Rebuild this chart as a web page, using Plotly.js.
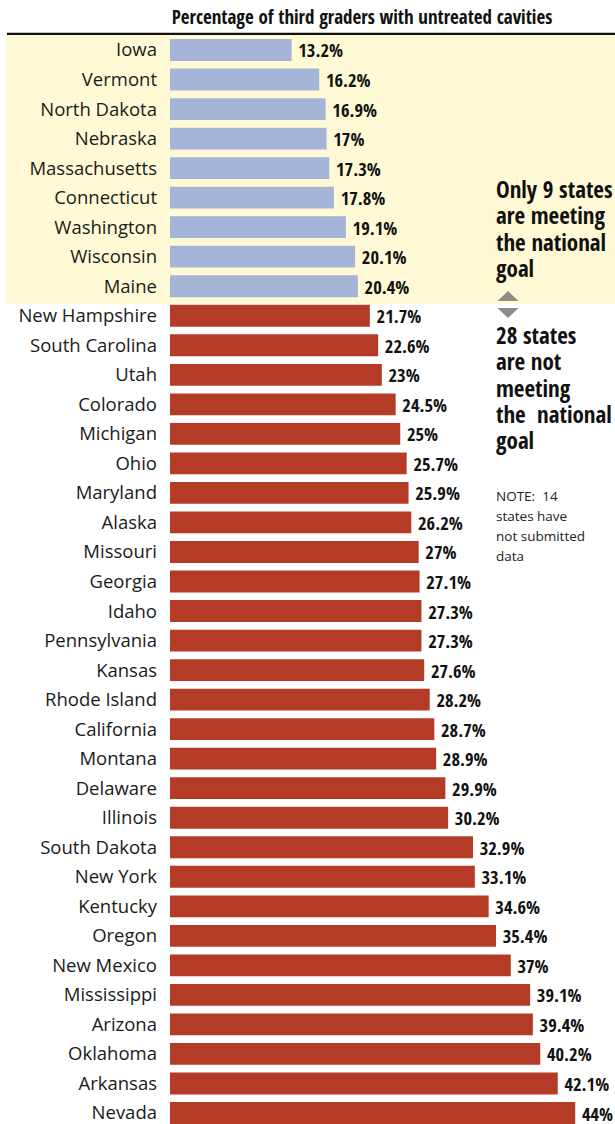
<!DOCTYPE html>
<html><head><meta charset="utf-8">
<script src="https://cdn.plot.ly/plotly-3.0.1.min.js"></script>
<style>html,body{margin:0;padding:0;background:#fff;}#chart{width:615px;height:1124px;}</style>
</head><body><div id="chart"></div>
<script>
const states = ["Iowa","Vermont","North Dakota","Nebraska","Massachusetts","Connecticut","Washington","Wisconsin","Maine",
"New Hampshire","South Carolina","Utah","Colorado","Michigan","Ohio","Maryland","Alaska","Missouri","Georgia","Idaho",
"Pennsylvania","Kansas","Rhode Island","California","Montana","Delaware","Illinois","South Dakota","New York","Kentucky",
"Oregon","New Mexico","Mississippi","Arizona","Oklahoma","Arkansas","Nevada"];
const values = [13.2,16.2,16.9,17,17.3,17.8,19.1,20.1,20.4,
21.7,22.6,23,24.5,25,25.7,25.9,26.2,27,27.1,27.3,
27.3,27.6,28.2,28.7,28.9,29.9,30.2,32.9,33.1,34.6,
35.4,37,39.1,39.4,40.2,42.1,44];
const meetingCount = 9;
const titleText = "Percentage of third graders with untreated cavities";
const goodLines = ["Only 9 states", "are meeting", "the national", "goal"];
const badLines = ["28 states", "are not", "meeting", "the  national", "goal"];
const noteLines = ["NOTE:  14", "states have", "not submitted", "data"];

const W = 615, H = 1124, L = 170, T = 35;
const pw = W - L, ph = H - T;
const xp = px => (px - L) / pw;
const yp = py => 1 - (py - T) / ph;

const colors = values.map((v, i) => i < meetingCount ? "#a5b5d8" : "#b43c27");
const condensed = "'Open Sans Condensed', 'Roboto Condensed', sans-serif";
const regular = "'Open Sans', 'Noto Sans', sans-serif";

const trace = {
  type: "bar", orientation: "h",
  x: values, y: states,
  marker: {color: colors},
  text: values.map(v => "\u2009" + String(v) + "%"),
  textposition: "outside",
  constraintext: "none",
  textfont: {family: condensed, size: 18.5, color: "#111", weight: "bold"},
  cliponaxis: false,
  hoverinfo: "skip"
};

const annotations = [];
goodLines.forEach((t, i) => annotations.push({xref: "paper", yref: "paper", x: xp(494), y: yp(189 + i * 26.3),
  xanchor: "left", yanchor: "middle", text: "<b>" + t + "</b>", showarrow: false,
  font: {family: condensed, size: 23, color: "#111"}}));
badLines.forEach((t, i) => annotations.push({xref: "paper", yref: "paper", x: xp(494), y: yp(335 + i * 26.3),
  xanchor: "left", yanchor: "middle", text: "<b>" + t + "</b>", showarrow: false,
  font: {family: condensed, size: 23, color: "#111"}}));
noteLines.forEach((t, i) => annotations.push({xref: "paper", yref: "paper", x: xp(494), y: yp(496 + i * 20),
  xanchor: "left", yanchor: "middle", text: t, showarrow: false,
  font: {family: regular, size: 13.5, color: "#222"}}));

const tri = (cx, y0, y1) => `M ${xp(cx - 10.5)} ${yp(y0)} L ${xp(cx + 10.5)} ${yp(y0)} L ${xp(cx)} ${yp(y1)} Z`;

const layout = {
  width: W, height: H,
  margin: {l: L, r: 0, t: T, b: 0},
  paper_bgcolor: "#ffffff", plot_bgcolor: "rgba(0,0,0,0)",
  showlegend: false,
  bargap: 0.26,
  title: {text: "<b>" + titleText + "</b>", x: 362 / W, xanchor: "center", y: 1 - 17 / H, yanchor: "middle",
    font: {family: condensed, size: 19, color: "#111"}},
  xaxis: {range: [0, pw / 9.21], showgrid: false, zeroline: false, showticklabels: false, ticks: "", fixedrange: true},
  yaxis: {type: "category", range: [36 + (H - 1113) / 29.53, -(50 - T) / 29.53], autorange: false,
    showgrid: false, zeroline: false, ticks: "", ticklabelstandoff: 12,
    tickfont: {family: regular, size: 18.5, color: "#1a1a1a"}},
  shapes: [
    {type: "rect", layer: "below", xref: "paper", yref: "paper", x0: xp(6), x1: xp(616), y0: yp(35), y1: yp(304),
      fillcolor: "#fffad5", line: {width: 0}},
    {type: "line", xref: "paper", yref: "paper", x0: xp(7), x1: xp(616), y0: yp(33.8), y1: yp(33.8),
      line: {color: "#111", width: 2.2}},
    {type: "path", xref: "paper", yref: "paper", path: tri(508, 301, 291), fillcolor: "#8c8c8c", line: {width: 0}},
    {type: "path", xref: "paper", yref: "paper", path: tri(508, 308, 318), fillcolor: "#8c8c8c", line: {width: 0}}
  ],
  annotations: annotations
};

Plotly.newPlot("chart", [trace], layout, {displayModeBar: false, staticPlot: true});
</script></body></html>
